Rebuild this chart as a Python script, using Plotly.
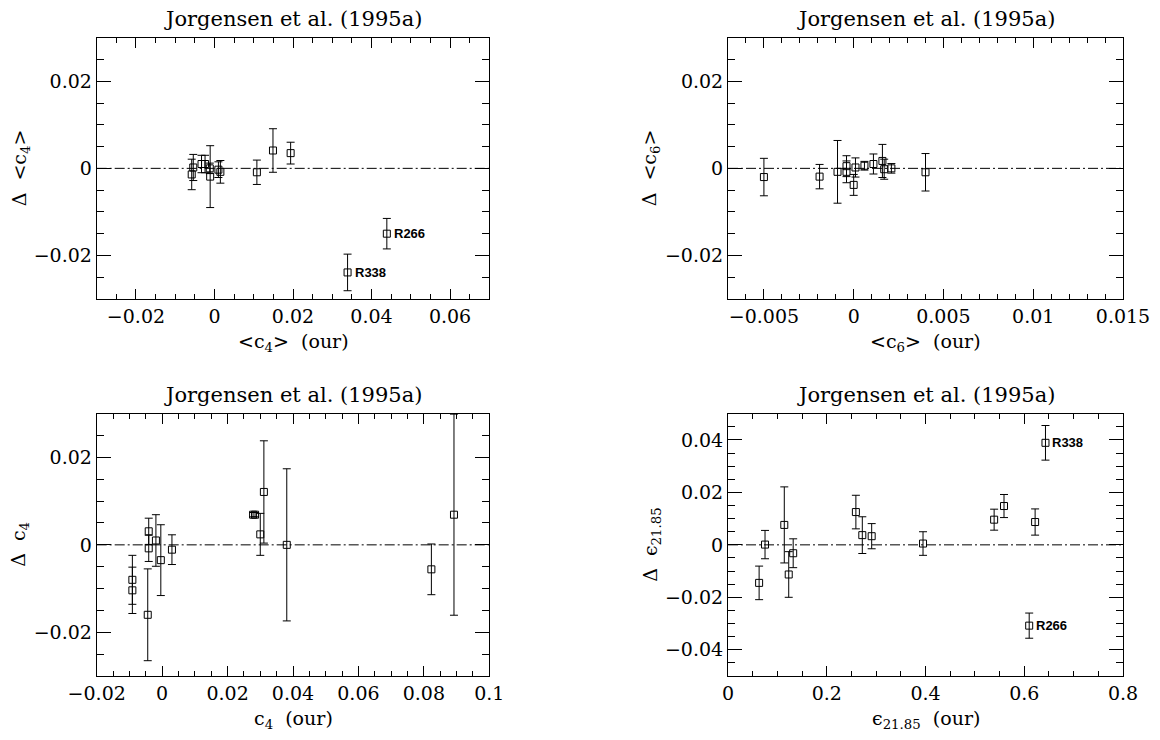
import plotly.graph_objects as go
from plotly.subplots import make_subplots

# <c4> panel (top left)
c4m_our = [-0.0058, -0.0054, -0.0033, -0.0024, -0.0011, -0.0012, 0.0010, 0.0015, 0.0108, 0.0149, 0.0194, 0.0339, 0.0439]
c4m_diff = [-0.0014, 0.0002, 0.0010, 0.0010, -0.0019, 0.0000, -0.0003, -0.0008, -0.0009, 0.0041, 0.0035, -0.0239, -0.0150]
c4m_err = [0.0035, 0.0030, 0.0020, 0.0020, 0.0071, 0.0012, 0.0018, 0.0026, 0.0028, 0.0050, 0.0025, 0.0042, 0.0035]
c4m_names = {11: "R338", 12: "R266"}

# <c6> panel (top right)
c6m_our = [-0.0050, -0.0019, -0.0009, -0.0004, -0.0004, 0.0001, 0.0000, 0.0006, 0.0011, 0.0016, 0.0017, 0.0021, 0.0040]
c6m_diff = [-0.0020, -0.0019, -0.0008, 0.0005, -0.0008, 0.0002, -0.0038, 0.0006, 0.0010, 0.0017, -0.0002, 0.0000, -0.0009]
c6m_err = [0.0043, 0.0028, 0.0072, 0.0024, 0.0025, 0.0022, 0.0024, 0.0010, 0.0023, 0.0038, 0.0023, 0.0011, 0.0043]

# c4 panel (bottom left)
c4_our = [-0.0091, -0.0091, -0.0041, -0.0041, -0.0044, -0.0019, -0.0004, 0.0030, 0.0278, 0.0284, 0.0300, 0.0311, 0.0381, 0.0823, 0.0892]
c4_diff = [-0.0080, -0.0104, 0.0031, -0.0008, -0.0160, 0.0010, -0.0035, -0.0011, 0.0069, 0.0069, 0.0024, 0.0121, 0.0000, -0.0056, 0.0069]
c4_err = [0.0056, 0.0053, 0.0030, 0.0030, 0.0105, 0.0059, 0.0081, 0.0034, 0.0005, 0.0005, 0.0048, 0.0117, 0.0174, 0.0058, 0.0230]

# eps_21.85 panel (bottom right)
eps_our = [0.063, 0.075, 0.114, 0.123, 0.132, 0.259, 0.272, 0.291, 0.395, 0.539, 0.559, 0.622, 0.643, 0.610]
eps_diff = [-0.0145, 0.0001, 0.0076, -0.0113, -0.0032, 0.0125, 0.0037, 0.0033, 0.0005, 0.0096, 0.0148, 0.0087, 0.0389, -0.0308]
eps_err = [0.0064, 0.0054, 0.0145, 0.0087, 0.0055, 0.0064, 0.0070, 0.0048, 0.0045, 0.0040, 0.0044, 0.0050, 0.0066, 0.0048]
eps_names = {12: "R338", 13: "R266"}

FONT = "DejaVu Serif"
# the page body has an 8px margin, so the figure is a bit smaller and shifted
OFF = 8
W, H = 1160 - OFF, 740 - 2 * OFF

fig = make_subplots(rows=2, cols=2)

panels = [
    (1, 1, c4m_our, c4m_diff, c4m_err, c4m_names),
    (1, 2, c6m_our, c6m_diff, c6m_err, {}),
    (2, 1, c4_our, c4_diff, c4_err, {}),
    (2, 2, eps_our, eps_diff, eps_err, eps_names),
]

for row, col, xs, ys, es, names in panels:
    fig.add_trace(go.Scatter(
        x=xs, y=ys, mode="markers",
        marker=dict(symbol="square-open", size=7, color="black", line=dict(width=1, color="black")),
        error_y=dict(type="data", array=es, color="black", thickness=1, width=4),
        showlegend=False,
    ), row=row, col=col)
    fig.add_hline(y=0, line=dict(color="black", width=1, dash="10px,3px,2px,3px"), row=row, col=col)
    for i, name in names.items():
        fig.add_annotation(x=xs[i], y=ys[i], text="<b>" + name + "</b>", showarrow=False,
                           xanchor="left", xshift=5, font=dict(family="Liberation Sans", size=13, color="black"),
                           row=row, col=col)

# panel frames in page pixels (left, right, top, bottom)
boxes = {
    (1, 1): (96.7, 489.3, 37.7, 299.0),
    (1, 2): (728.0, 1123.0, 37.7, 299.0),
    (2, 1): (96.7, 489.3, 413.7, 676.0),
    (2, 2): (728.0, 1123.0, 413.7, 676.0),
}
xr = {(1, 1): ([-0.03, 0.07], 0.02, 0.005),
      (1, 2): ([-0.007, 0.015], 0.005, 0.001),
      (2, 1): ([-0.02, 0.1], 0.02, 0.005),
      (2, 2): ([0, 0.8], 0.2, 0.05)}
yr = {(1, 1): ([-0.03, 0.03], 0.02, 0.005),
      (1, 2): ([-0.03, 0.03], 0.02, 0.005),
      (2, 1): ([-0.03, 0.03], 0.02, 0.005),
      (2, 2): ([-0.05, 0.05], 0.02, 0.005)}


def px(x):
    return (x - OFF) / W


def py(y):
    return 1 - (y - OFF) / H


common = dict(showline=True, mirror="allticks", linecolor="black", linewidth=1,
              ticks="inside", tickcolor="black", tickwidth=1, showgrid=False, zeroline=False,
              automargin=False, tickfont=dict(family=FONT, size=19, color="black"))

for (row, col), (l, r, t, b) in boxes.items():
    rng, dt, mdt = xr[(row, col)]
    fig.update_xaxes(range=rng, dtick=dt, tick0=0, ticklen=10, domain=[px(l), px(r)],
                     minor=dict(dtick=mdt, tick0=0, ticks="inside", ticklen=5, tickcolor="black"),
                     **common, row=row, col=col)
    rng, dt, mdt = yr[(row, col)]
    fig.update_yaxes(range=rng, dtick=dt, tick0=0, ticklen=14, domain=[py(b), py(t)],
                     minor=dict(dtick=mdt, tick0=0, ticks="inside", ticklen=7, tickcolor="black"),
                     **common, row=row, col=col)

# titles and axis labels
xtitles = {(1, 1): "&lt;c<sub>4</sub>&gt;  (our)", (1, 2): "&lt;c<sub>6</sub>&gt;  (our)",
           (2, 1): "c<sub>4</sub>  (our)", (2, 2): "ϵ<sub>21.85</sub>  (our)"}
ytitles = {(1, 1): "Δ  &lt;c<sub>4</sub>&gt;", (1, 2): "Δ  &lt;c<sub>6</sub>&gt;",
           (2, 1): "Δ  c<sub>4</sub>", (2, 2): "Δ  ϵ<sub>21.85</sub>"}
ytitle_x = {(1, 1): 20, (1, 2): 650, (2, 1): 20, (2, 2): 652}

for (row, col), (l, r, t, b) in boxes.items():
    cx = px((l + r) / 2)
    fig.add_annotation(x=cx, y=py(t - 19), xref="paper", yref="paper", showarrow=False,
                       text="Jorgensen et al. (1995a)", xanchor="center", yanchor="middle",
                       font=dict(family=FONT, size=21, color="black"))
    fig.add_annotation(x=cx, y=py(b + 43), xref="paper", yref="paper", showarrow=False,
                       text=xtitles[(row, col)], xanchor="center", yanchor="middle",
                       font=dict(family=FONT, size=19, color="black"))
    fig.add_annotation(x=px(ytitle_x[(row, col)]), y=py((t + b) / 2), xref="paper", yref="paper",
                       showarrow=False, text=ytitles[(row, col)], textangle=-90,
                       xanchor="center", yanchor="middle",
                       font=dict(family=FONT, size=19, color="black"))

fig.update_layout(width=W, height=H, margin=dict(l=0, r=0, t=0, b=0),
                  plot_bgcolor="white", paper_bgcolor="white")

fig.write_html("out.html")
